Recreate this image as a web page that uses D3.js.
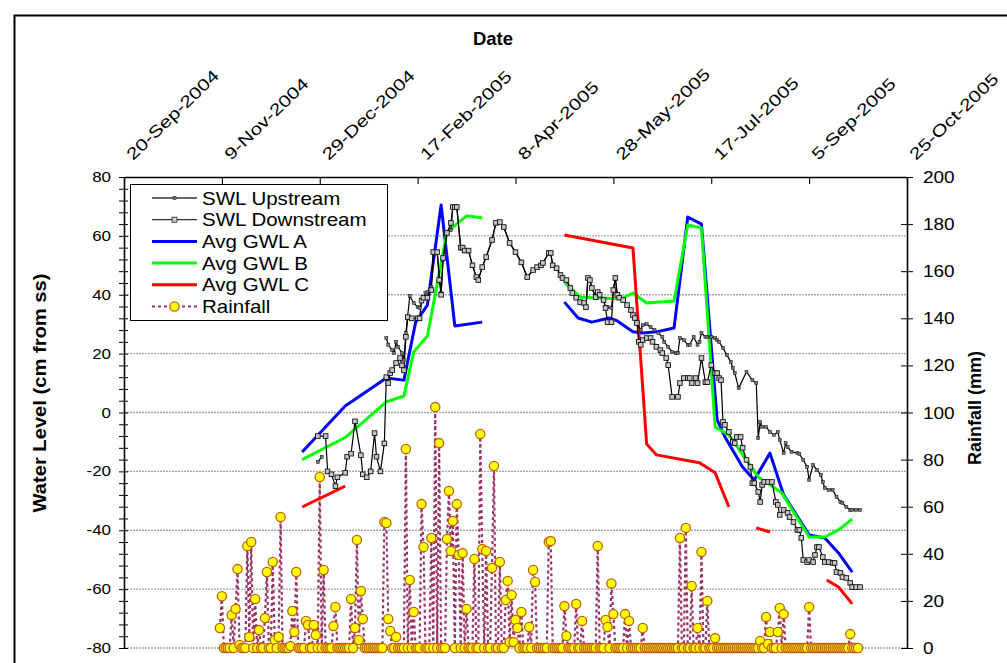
<!DOCTYPE html>
<html><head><meta charset="utf-8">
<script src="https://cdn.jsdelivr.net/npm/d3@7"></script>
<style>
body{margin:0;background:#fff;}
svg{display:block;font-family:"Liberation Sans",Arial,sans-serif;}
</style>
</head><body>
<svg id="c" width="1007" height="663"></svg>
<script>
// ---------------- data ----------------
const startDate = Date.UTC(2004, 8, 20);   // day 0 = 20-Sep-2004
const endDate = Date.UTC(2005, 9, 25);
const xTickDays = [0, 50, 100, 150, 200, 250, 300, 350, 400];
const xTickLabels = ["20-Sep-2004","9-Nov-2004","29-Dec-2004","17-Feb-2005","8-Apr-2005","28-May-2005","17-Jul-2005","5-Sep-2005","25-Oct-2005"];
const leftTicks = [80, 60, 40, 20, 0, -20, -40, -60, -80];
const rightTicks = [200, 180, 160, 140, 120, 100, 80, 60, 40, 20, 0];
const seriesNames = ["SWL Upstream","SWL Downstream","Avg GWL A","Avg GWL B","Avg GWL C","Rainfall"];

// SWL Upstream (days after 20-Sep-2004, cm)
const upDays = [99,101,102,134,135,137,138,139,140,142,143,144,146,148,150,151,154,155,157,158,160,162,163,165,167,168,169,170,
 172,173,174,176,178,180,181,183,185,188,190,192,194,197,200,203,206,209,211,213,214,217,218,219,221,223,224,226,228,229,231,233,235,236,237,238,239,241,242,243,245,246,247,249,250,251,252,253,255,257,259,260,261,262,
 264,265,267,269,271,273,275,276,278,280,282,283,284,286,288,289,291,293,294,295,297,298,300,302,303,304,306,308,310,311,312,314,318,321,323,324,325,326,328,330,332,334,335,337,338,339,341,344,345,347,349,350,352,354,356,357,358,360,362,364,366,367,369,371,372,374,376];
const upVals = [-16.8,-15.1,null,25.3,23,21.2,20.2,24,22.3,20.2,17.8,27,39.6,37.2,35.8,35.5,40.6,41,42.6,54.5,54.5,40.6,51.8,61,62,69.8,69.8,69.8,
 56,56,55,55,50,46,45,49.4,52.8,58.6,64.4,64.7,63,57.6,54.5,51,46,48.4,49.4,50,50.8,54.2,54.2,50,49,46.7,45.7,45,42.3,40.6,39,37.5,37.2,35.8,45.7,45,42.3,39.2,40.9,40,38.2,35.5,35.8,35.5,41.6,45.7,40,39,38.2,36.5,34.8,33.1,32.1,30.4,
 28,29.7,30,29,28,27,25.7,24,22.3,20.6,20.2,20.2,25.3,24.6,23,23,25.7,23,24,27,25.7,25.7,25.7,25.3,24.6,24,21.9,19.5,17.2,15.1,13.4,8.3,13.8,11,10,-8.7,-3.2,-4.9,-4.9,-6.6,-7.6,-6.6,-9.3,-13.8,-10.4,-11.7,-13.4,-13.8,-14.1,-16.1,-18.5,-22.9,-17.8,-19.5,-21.2,-23.6,-25.6,-26.3,-26.3,-28.7,-30.4,-30.7,-32.1,-33.1,-33.1,-33.1,-33.1];

// SWL Downstream
const dnDays = [99,103,104,106,108,109,113,114,116,118,121,122,124,126,128,129,131,133,134,135,136,137,139,141,142,143,144,145,147,150,151,152,153,155,157,158,160,161,162,163,165,167,168,169,170,
 172,173,174,176,178,180,181,183,185,188,190,192,194,197,200,203,206,209,211,213,214,217,218,219,221,223,224,226,228,229,231,233,235,236,237,238,239,241,242,243,245,246,247,249,250,251,252,253,255,257,259,260,261,262,
 263,264,265,267,269,270,272,274,275,277,278,280,283,284,286,288,289,290,292,293,295,297,298,300,302,303,304,305,306,307,309,311,312,313,315,316,318,320,321,322,324,325,326,327,329,331,333,334,335,337,339,340,342,344,345,346,347,349,350,352,353,354,355,357,358,360,362,363,364,366,367,369,371,372,374,376];
const dnVals = [-8,-8,-20,-21,-25,-22,-20.5,-15,-14,-3,-14.5,-21,-22,-20,-7,-15,-20,-10.5,12,10,13.4,14.4,16.8,18.5,16,14.4,25.7,32.4,32,32,32,38,39,39,41.6,54.5,54.5,45,40,52.5,61,64.4,69.8,69.8,69.8,
 56,56,55,55,50,46,45,49.4,52.8,58.6,64.4,64.7,63,57.6,54.5,51,46,48.4,49.4,50,50.8,54.2,54.2,50,49,46.7,45.7,45,42.3,40.6,39,37.5,37.2,35.8,45.7,45,42.3,39.2,40.9,40,38.2,35.5,30.7,30.7,41.6,45.7,40,39,38.2,36.5,34.8,33.1,32.1,30.4,
 24,23,24.6,25.3,25.3,24,22.3,21.2,20.2,18.5,16.1,5.3,5.3,10,11.7,11.7,11.7,10,11.7,10,18.5,10.3,10.3,16.1,13.4,13.4,11.7,11,-3.2,-4.2,-6.6,-10,-10.4,-8.3,-8.3,-12,-16.1,-18.5,-24,-24,-27,-30.4,-24.6,-23.6,-23.6,-23.6,-30.4,-31.4,-34.8,-33.1,-34.1,-35.5,-37.2,-39.9,-39.9,-42.6,-50.1,-50.8,-50.1,-50.8,-48.4,-45.7,-45.7,-49.1,-50.8,-50.8,-51.1,-51.1,-54.2,-54.5,-55.9,-56.2,-57.9,-59.3,-59.3,-59.3];

// Average groundwater levels
const gwlADays = [91,113,134,143,149,155,162,169,183,184,225,232,239,248,252,260,265,272,281,288,295,303,307,316,322,330,337,350,358,365,372];
const gwlAVals = [-13.4,2.2,11.7,11,30.7,36.5,70.5,29.4,30.7,null,37.5,32.1,30.7,32.1,31.1,27.4,27,27.4,28.7,66.4,64,-2.5,-8.3,-18.5,-22.9,-13.8,-28,-41.6,-42.6,-47.7,-54.2];
const gwlBDays = [91,113,134,143,148,155,165,175,183,184,225,233,242,254,260,267,281,288,295,302,309,324,336,350,358,365,372];
const gwlBVals = [-16,-8.5,3.6,5.6,20.6,26,61.3,66.8,66.1,null,44.3,39.2,38.9,38.6,40.6,37.2,37.9,63.7,62.7,-4.9,-7.6,-21.9,-27.3,-42.3,-42.3,-39.9,-36.2];
const gwlCDays = [91,113,114,225,260,267,272,294,302,309,310,323,330,331,359,365,372];
const gwlCVals = [-32.1,-25,null,60.3,55.9,-10.7,-14.4,-17.1,-20.5,-32.1,null,-39.2,-40.6,null,-56.9,-59.3,-65];

// Daily rainfall (mm), first value = day 49 (8-Nov-2004)
const rainStartDay = 49;
const rainfall = [
 8.5,22,0,0,0,0,14,0,16.6,33.5,
 1.3,0,0,0,43.3,4.7,45,0,20.8,0,
 7.6,0,0,12.7,32.3,0,0,36.5,3.4,0,
 4.7,55.6,0,0,0,0,0.8,15.7,6.8,32.3,
 0,0,0,0,11.5,9.8,0,0,9.8,5.5,
 0,72.6,0,33.1,0,0,0,0,9.3,17.4,
 0,0,0,0,0,0,0,20.8,0,8.5,
 45.9,3.4,24.2,12.3,0,0,0,0,0,0,
 0,0,0,0,53.5,53.1,12.3,7.2,0,0,
 4.7,0,0,0,0,84.5,0,28.9,0,15.3,
 0,0,0,61.1,42.9,0,0,0,46.7,0,
 102.3,0,87,0,0,0,46.3,66.7,41.2,53.9,
 0,61.1,39.5,0,40.3,0,16.6,0,0,0,
 37.8,0,0,90.9,42,0,41.2,0,0,34,
 77.3,0,0,36.5,0,0,20.4,28.5,2.5,22.5,
 2.5,11.9,8.5,0,15.3,0,0,0,8.9,0,
 33.1,28,0,0,0,0,0,0,45,45.4,
 0,0,0,0,0,0,17.8,5.1,0,0,
 0,0,18.7,0,0,11.5,0,0,0,0,
 0,0,0,43.3,0,0,0,11.9,8.9,0,
 27.4,14.4,0,0,0,0,0,14.4,0,11.5,
 0,0,0,0,0,0,8.5,0,0,0,
 0,0,0,0,0,0,0,0,0,0,
 0,0,0,0,0,46.7,0,0,51,0,
 0,26.3,0,0,8.5,0,40.8,0,0,20,
 0,0,0,4.2,0,0,0,0,0,0,
 0,0,0,0,0,0,0,0,0,0,
 0,0,0,0,0,0,3,0,0,13.2,
 1.7,6.8,0,0,0,6.8,17,0,14.4,0,
 0,0,0,0,0,0,0,0,0,0,
 0,17.4,0,0,0,0,0,0,0,0,
 0,0,0,0,0,0,0,0,0,0,
 0,0,5.9,0,0,0,0];

// ---------------- chart ----------------
const svg = d3.select("#c");
const day = d => new Date(startDate + d * 864e5);
const x = d3.scaleUtc().domain([new Date(startDate), new Date(endDate)]).range([124, 907]);
const yL = d3.scaleLinear().domain([-80, 80]).range([648, 177]);
const yR = d3.scaleLinear().domain([0, 200]).range([648, 177]);

// outer frame
svg.append("rect").attr("x", 14.5).attr("y", 15.5).attr("width", 1010).attr("height", 700)
  .attr("fill", "none").attr("stroke", "#000").attr("stroke-width", 2);

// gridlines
svg.append("g").selectAll("line").data(leftTicks.filter(v => v < 80)).join("line")
  .attr("x1", 124).attr("x2", 907).attr("y1", d => yL(d)).attr("y2", d => yL(d))
  .attr("stroke", "#a6a6a6").attr("stroke-width", 1.4).attr("stroke-dasharray", "2,1");

// top axis
const gTop = svg.append("g").attr("transform", "translate(0,177)")
  .call(d3.axisTop(x).tickValues(xTickDays.map(day)).tickFormat("").tickSizeInner(-7).tickSizeOuter(0));
gTop.select(".domain").attr("stroke", "#000").attr("stroke-width", 1.3);
gTop.selectAll(".tick line").attr("stroke", "#000").attr("stroke-width", 1.1);

// left axis (minor ticks crossing)
const minorL = d3.range(-80, 81, 4);
const gL1 = svg.append("g").attr("transform", "translate(124,0)")
  .call(d3.axisLeft(yL).tickValues(minorL).tickFormat("").tickSizeInner(5).tickSizeOuter(0));
const gL2 = svg.append("g").attr("transform", "translate(124,0)")
  .call(d3.axisRight(yL).tickValues(minorL).tickFormat("").tickSizeInner(4).tickSizeOuter(0));
[gL1, gL2].forEach(g => { g.select(".domain").attr("stroke", "#000").attr("stroke-width", 1.3); g.selectAll(".tick line").attr("stroke", "#000"); });

// right axis
const gR1 = svg.append("g").attr("transform", "translate(907,0)")
  .call(d3.axisRight(yR).tickValues(rightTicks).tickFormat("").tickSizeInner(6).tickSizeOuter(0));
const gR2 = svg.append("g").attr("transform", "translate(907,0)")
  .call(d3.axisLeft(yR).tickValues(rightTicks).tickFormat("").tickSizeInner(6).tickSizeOuter(0));
[gR1, gR2].forEach(g => { g.select(".domain").attr("stroke", "#000").attr("stroke-width", 1.3); g.selectAll(".tick line").attr("stroke", "#000"); });

// helper for horizontally-widened text
function label(t, px, py, size, opt = {}) {
  const sx = opt.sx || 1, rot = opt.rot || 0;
  return svg.append("text").text(t)
    .attr("transform", `translate(${px},${py}) rotate(${rot}) scale(${sx},1)`)
    .attr("font-size", size).attr("font-weight", opt.bold ? "bold" : "normal")
    .attr("text-anchor", opt.anchor || "start").attr("fill", "#000");
}

// tick labels
leftTicks.forEach(v => label(v, 111, yL(v) + 5, 14.5, {sx: 1.17, anchor: "end"}));
rightTicks.forEach(v => label(v, 923, yR(v) + 6, 16.5, {sx: 1.15}));
xTickDays.forEach((d, i) => label(xTickLabels[i], x(day(d)) + 9, 161, 16.5, {sx: 1.27, rot: -44}));

// titles
label("Date", 493, 45, 18.5, {bold: true, anchor: "middle"});
label("Water Level (cm from ss)", 46, 393, 18, {bold: true, anchor: "middle", rot: -90, sx: 1.12});
label("Rainfall (mm)", 981, 408, 18, {bold: true, anchor: "middle", rot: -90});

// rainfall
const rainData = rainfall.map((v, i) => ({d: day(rainStartDay + i), v}));
const plot = svg.append("g");
plot.append("path").datum(rainData)
  .attr("d", d3.line().x(p => x(p.d)).y(p => yR(p.v)))
  .attr("fill", "none").attr("stroke", "#993366").attr("stroke-width", 2.2).attr("stroke-dasharray", "3,3");
plot.append("g").selectAll("circle").data(rainData).join("circle")
  .attr("cx", p => x(p.d)).attr("cy", p => yR(p.v)).attr("r", 4.6)
  .attr("fill", "#ffff00").attr("stroke", "#c06010").attr("stroke-width", 1.3);

// GWL lines
function zip(ds, vs) { return ds.map((d, i) => ({d: day(d), v: vs[i]})); }
const lineL = d3.line().defined(p => p.v !== null).x(p => x(p.d)).y(p => yL(p.v));
[[gwlADays, gwlAVals, "#0000ff"], [gwlBDays, gwlBVals, "#00ff00"], [gwlCDays, gwlCVals, "#ff0000"]].forEach(([ds, vs, c]) => {
  plot.append("path").datum(zip(ds, vs)).attr("d", lineL)
    .attr("fill", "none").attr("stroke", c).attr("stroke-width", 3).attr("stroke-linejoin", "round");
});

// SWL lines
const upData = zip(upDays, upVals), dnData = zip(dnDays, dnVals);
[upData, dnData].forEach(dat => plot.append("path").datum(dat).attr("d", lineL)
  .attr("fill", "none").attr("stroke", "#000").attr("stroke-width", 1.2));
plot.append("g").selectAll("rect").data(upData.filter(p => p.v !== null)).join("rect")
  .attr("x", p => x(p.d) - 1.5).attr("y", p => yL(p.v) - 1.5).attr("width", 3).attr("height", 3)
  .attr("fill", "#777").attr("stroke", "#111").attr("stroke-width", 0.5);
plot.append("g").selectAll("rect").data(dnData).join("rect")
  .attr("x", p => x(p.d) - 2.3).attr("y", p => yL(p.v) - 2.3).attr("width", 4.6).attr("height", 4.6)
  .attr("fill", "#c8c8c8").attr("stroke", "#111").attr("stroke-width", 0.9);

// legend
const lg = svg.append("g");
lg.append("rect").attr("x", 130.5).attr("y", 184.5).attr("width", 257).attr("height", 136)
  .attr("fill", "#fff").attr("stroke", "#000").attr("stroke-width", 1);
seriesNames.forEach((n, i) => {
  const cy = 198 + i * 21.7;
  const ln = lg.append("line").attr("x1", 152).attr("x2", 197).attr("y1", cy).attr("y2", cy);
  if (i < 2) ln.attr("stroke", "#333").attr("stroke-width", 1.3);
  else if (i < 5) ln.attr("stroke", ["#0000ff", "#00ff00", "#ff0000"][i - 2]).attr("stroke-width", 3);
  else ln.attr("stroke", "#993366").attr("stroke-width", 2.2).attr("stroke-dasharray", "3,3");
  if (i === 0) lg.append("rect").attr("x", 173).attr("y", cy - 1.5).attr("width", 3).attr("height", 3).attr("fill", "#777").attr("stroke", "#111").attr("stroke-width", 0.5);
  if (i === 1) lg.append("rect").attr("x", 172).attr("y", cy - 2.5).attr("width", 5).attr("height", 5).attr("fill", "#cfcfcf").attr("stroke", "#222").attr("stroke-width", 0.8);
  if (i === 5) lg.append("circle").attr("cx", 174.5).attr("cy", cy).attr("r", 4.6).attr("fill", "#ffff00").attr("stroke", "#c06010").attr("stroke-width", 1.3);
  lg.append("text").text(n).attr("transform", `translate(202,${cy + 6.5}) scale(1.14,1)`)
    .attr("font-size", 18).attr("fill", "#000");
});
</script>
</body></html>
